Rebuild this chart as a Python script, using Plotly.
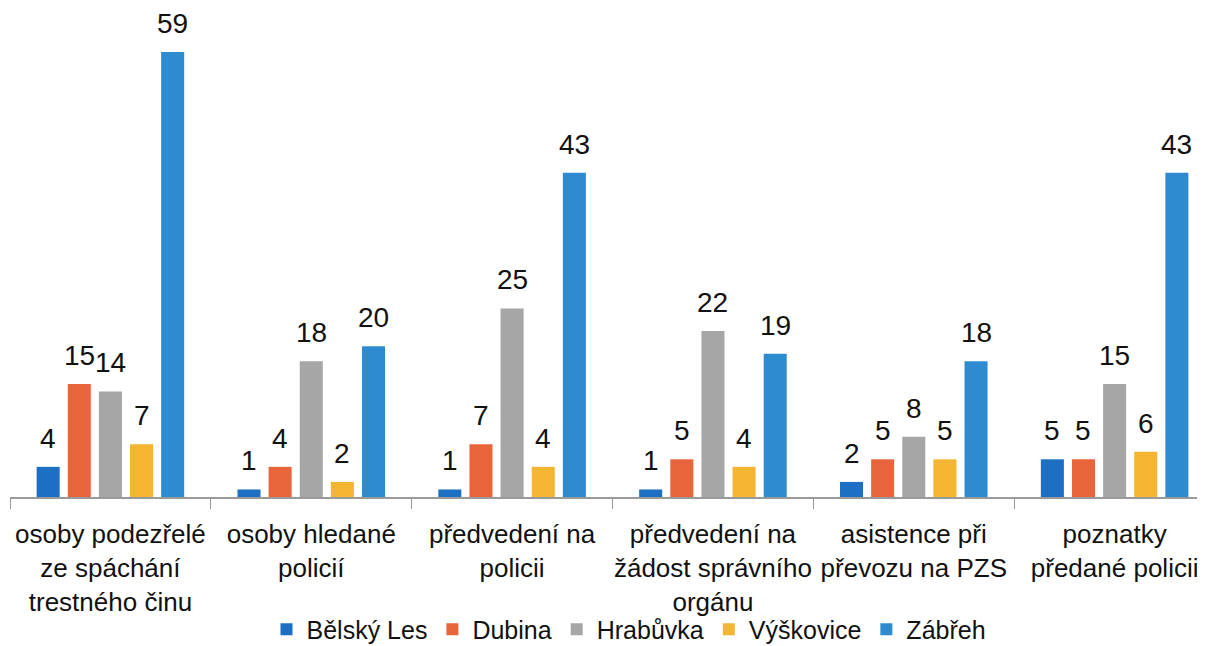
import plotly.graph_objects as go

categories = [
    "osoby podezřelé<br>ze spáchání<br>trestného činu",
    "osoby hledané<br>policií",
    "předvedení na<br>policii",
    "předvedení na<br>žádost správního<br>orgánu",
    "asistence při<br>převozu na PZS",
    "poznatky<br>předané policii",
]
series_names = ["Bělský Les", "Dubina", "Hrabůvka", "Výškovice", "Zábřeh"]
belsky_les = [4, 1, 1, 1, 2, 5]
dubina = [15, 4, 7, 5, 5, 5]
hrabuvka = [14, 18, 25, 22, 8, 15]
vyskovice = [7, 2, 4, 4, 5, 6]
zabreh = [59, 20, 43, 19, 18, 43]
series_values = [belsky_les, dubina, hrabuvka, vyskovice, zabreh]
colors = ["#1c6fc2", "#e8653c", "#a6a6a6", "#f4b532", "#2f8bcf"]

FONT = "Liberation Sans, Arial, sans-serif"
fig = go.Figure()
for name, vals, col in zip(series_names, series_values, colors):
    fig.add_trace(go.Bar(
        name=name, x=categories, y=vals, marker_color=col,
        marker_line_width=0,
    ))

# value labels above bars, positioned through the axes
n = len(series_names)
cat_px = 1195 / 5.95
pitch = cat_px * (1 - 0.225) / n
for i, vals in enumerate(series_values):
    for c, v in zip(categories, vals):
        fig.add_annotation(
            x=c, y=v, text=str(v), showarrow=False,
            xshift=(i - (n - 1) / 2) * pitch, yshift=11,
            yanchor="bottom", xanchor="center",
            font=dict(family=FONT, size=28, color="#111111"),
        )

fig.update_layout(
    width=1197, height=638,
    margin=dict(l=2, r=0, t=0, b=149, autoexpand=False),
    paper_bgcolor="white", plot_bgcolor="white",
    barmode="group", bargap=0.225, bargroupgap=0.26,
    font=dict(family=FONT, size=26, color="#111111"),
    showlegend=True,
    legend=dict(
        orientation="h", x=0.518, xanchor="center", y=-0.271, yanchor="middle",
        font=dict(family=FONT, size=25, color="#111111"),
        bgcolor="rgba(0,0,0,0)",
        itemwidth=30, tracegroupgap=0,
    ),
    xaxis=dict(
        range=[-0.5, 5.45], showline=True, linecolor="#9a9a9a", linewidth=1.5,
        ticks="outside", tickson="boundaries", ticklen=10, tickcolor="#9a9a9a",
        tickangle=0, automargin=False, ticklabelstandoff=13,
        tickfont=dict(family=FONT, size=26, color="#111111"),
        showgrid=False, zeroline=False,
    ),
    yaxis=dict(
        range=[0, 64.85], visible=False, showgrid=False, zeroline=False,
        automargin=False,
    ),
)

fig.write_html("out.html")
